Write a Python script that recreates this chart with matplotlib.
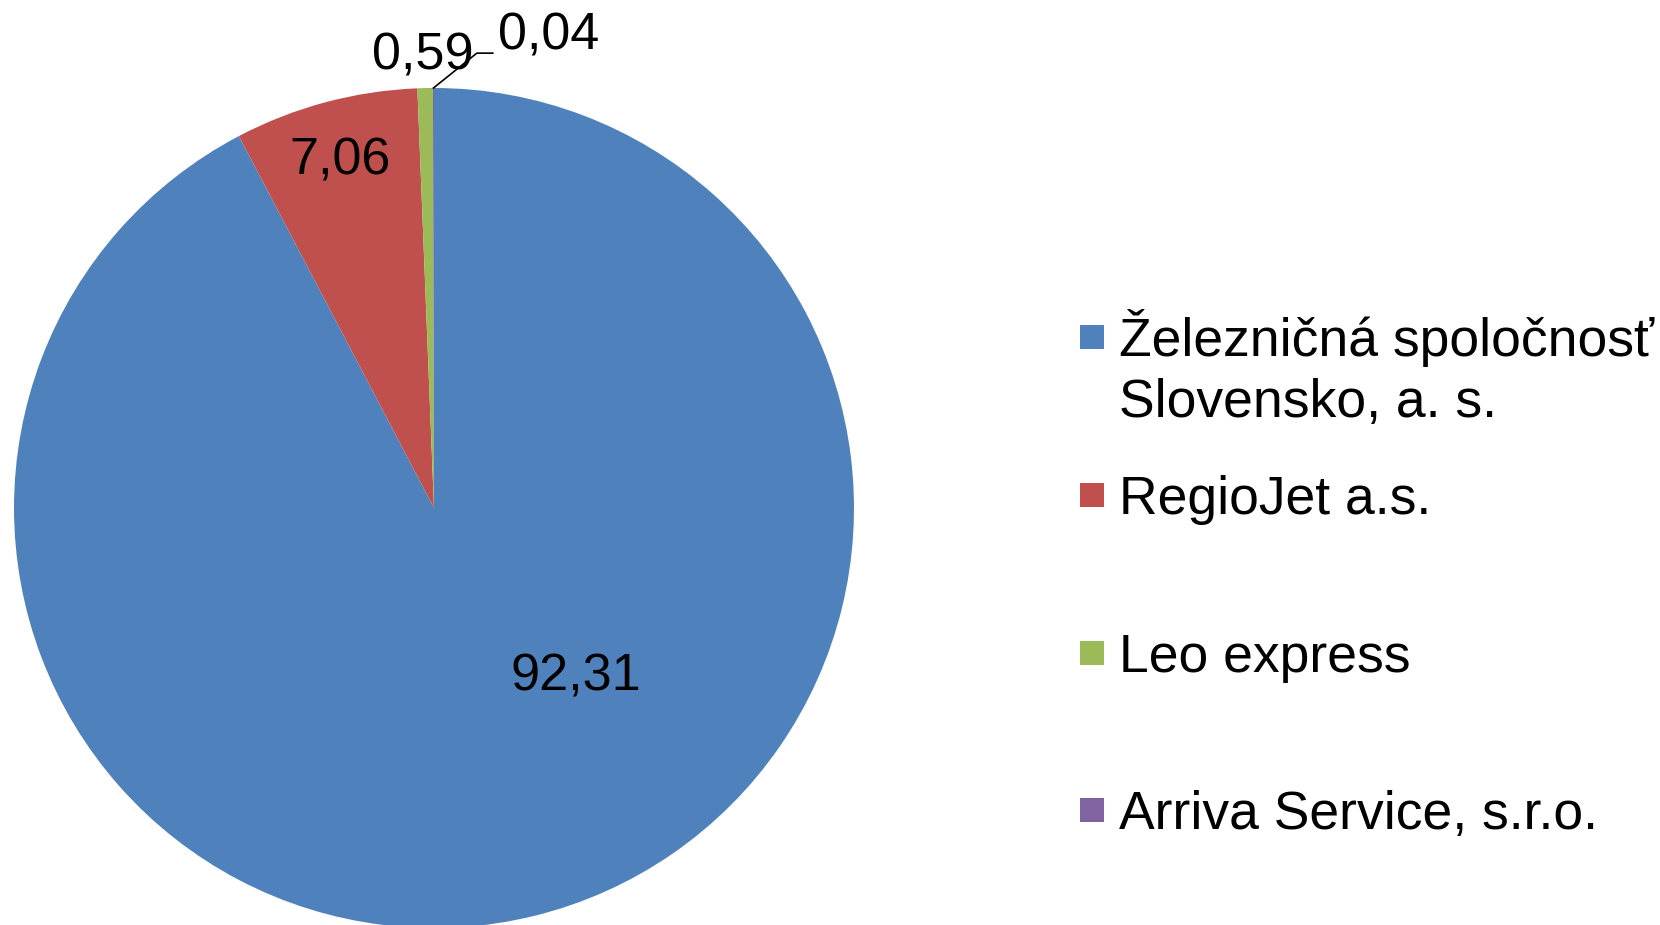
import numpy as np
import matplotlib
matplotlib.use('Agg')
import matplotlib.pyplot as plt
from matplotlib.patches import Rectangle

# Datos del gráfico (podiel dopravcov, %)
dopravcovia = ['Železničná spoločnosť\nSlovensko, a. s.', 'RegioJet a.s.', 'Leo express', 'Arriva Service, s.r.o.']
podiely = [92.31, 7.06, 0.59, 0.04]
popisky = ['92,31', '7,06', '0,59', '0,04']
farby = ['#4F81BD', '#C0504D', '#9BBB59', '#8064A2']

plt.rcParams['font.family'] = ['Liberation Sans', 'DejaVu Sans']

W, H = 1660, 925
fig = plt.figure(figsize=(W / 100, H / 100), dpi=100)

# kruh: stred (434, 508) px, polomer 420 px
cx, cy, r = 434, 508, 420
ax = fig.add_axes([(cx - r) / W, (H - cy - r) / H, 2 * r / W, 2 * r / H])
ax.set_aspect('equal')
ax.axis('off')

wedges, _ = ax.pie(podiely, colors=farby, startangle=90, counterclock=False,
                   radius=1, center=(0, 0), frame=False)
ax.set_xlim(-1, 1)
ax.set_ylim(-1, 1)

# pozicie popiskov (v jednotkach polomeru)
pos_popiskov = [(0.338, -0.402), (-0.223, 0.826), (-0.026, 1.075), (0.273, 1.123)]
for txt, (x, y) in zip(popisky, pos_popiskov):
    ax.text(x, y, txt, ha='center', va='center', fontsize=37.5, color='black', clip_on=False)

# spojovacia ciara pre najmensi dielik
w = wedges[3]
uhol = np.deg2rad((w.theta1 + w.theta2) / 2)
x0, y0 = np.cos(uhol), np.sin(uhol)
ax.plot([x0, 0.102, 0.14], [y0, 1.083, 1.083], color='black', lw=1.2, clip_on=False)

# legenda
leg_y = [337, 495, 653, 810]
for meno, farba, y in zip(dopravcovia, farby, leg_y):
    fig.patches.append(Rectangle((1080 / W, (H - y - 12) / H), 24 / W, 24 / H,
                                 transform=fig.transFigure, facecolor=farba, edgecolor='none'))
    for i, riadok in enumerate(meno.split('\n')):
        fig.text(1119 / W, (H - y - 19 - i * 61) / H, riadok, ha='left', va='baseline',
                 fontsize=38.5)

plt.savefig('out.png', dpi=100)
